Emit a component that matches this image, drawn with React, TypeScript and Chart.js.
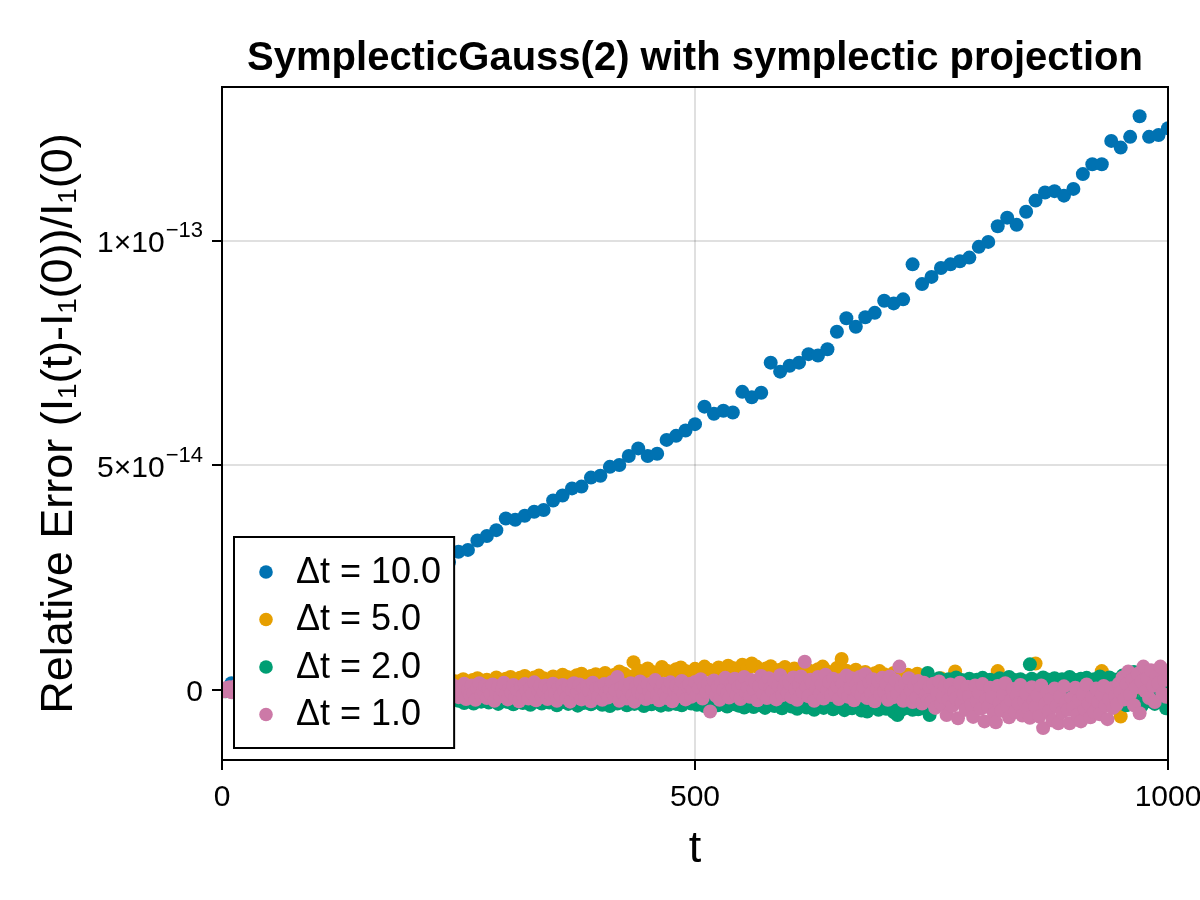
import React, { useEffect, useRef } from 'react';
import { Chart, registerables } from 'chart.js';

Chart.register(...registerables);

const FONT = '"Liberation Sans", Arial, sans-serif';

const TITLE = 'SymplecticGauss(2) with symplectic projection';
const X_LABEL = 't';
const Y_LABEL = 'Relative Error (I₁(t)-I₁(0))/I₁(0)';

const xTicks = [0, 500, 1000];
const xTickLabels = ['0', '500', '1000'];
const yTicks = [0, 5e-14, 1e-13];
// [mantissa part, exponent] drawn as superscript
const yTickLabels = [['0', ''], ['5×10', '−14'], ['1×10', '−13']];

const seriesLabels = ['Δt = 10.0', 'Δt = 5.0', 'Δt = 2.0', 'Δt = 1.0'];
const seriesColors = ['#0072B2', '#E69F00', '#009E73', '#CC79A7'];
// spacing in t between stored points (the Δt = 1 band is solid at this scale, kept every 2)
const seriesSteps = [10, 5, 2, 2];

// all values below are in units of 1e-15
const UNIT = 1e-15;

const dt10 = [
  0, 1.5, 2.5, 3.5, 4.5, 5.5, 6.5, 8, 9, 10,
  11, 12.5, 13.5, 14.5, 15.5, 17, 18, 19.5, 20.5, 21.5,
  23, 24.5, 25.5, 27, 28.5, 30.8, 31.2, 33.3, 34.3, 35.6,
  38.2, 37.9, 38.8, 39.7, 40.1, 42.2, 43.3, 44.9, 45.3, 47.3,
  47.7, 49.7, 50.1, 52.1, 53.8, 52.1, 52.6, 55.7, 56.6, 57.8,
  59.2, 63.1, 61.5, 62.2, 61.8, 66.4, 65.2, 66.2, 72.9, 70.9,
  72.2, 72.9, 74.8, 74.5, 75.9, 79.8, 82.8, 80.9, 83.0, 84.0,
  86.7, 86.1, 87.0, 94.8, 90.4, 92.0, 94.0, 94.8, 95.5, 96.3,
  98.7, 99.8, 103.3, 105.2, 103.6, 106.5, 109.0, 110.8, 111.1, 110.1,
  111.6, 114.9, 117.1, 117.1, 122.3, 120.8, 123.2, 127.8, 123.2, 123.6,
  125.1,
];

const dt5 = [
  0, 0.3, -0.2, 0.5, 0.2, 0.8, 0.4, 0.9, 0.6, 1.1, 0.7, 1.2, 0.9, 0.5, 1.3, 1.0, 1.4, 0.8, 1.2, 1.5,
  1.1, 1.6, 1.3, 0.9, 1.7, 1.4, 1.8, 1.2, 1.5, 2.0, 1.6, 1.3, 1.9, 1.7, 2.1, 1.5, 1.8, 2.2, 1.6, 2.0,
  1.8, 2.3, 1.7, 2.1, 2.4, 1.9, 2.2, 1.6, 2.5, 2.0, 1.9, 2.4, 1.8, 2.2, 2.6, 2.0, 2.3, 1.7, 2.8, 2.1,
  2.5, 2.9, 2.2, 2.7, 3.1, 2.4, 2.8, 3.2, 2.6, 2.3, 3.0, 2.7, 3.4, 2.9, 2.5, 3.3, 3.6, 2.8, 3.1, 3.5,
  3.2, 3.8, 2.9, 3.4, 4.1, 3.6, 3.0, 6.2, 4.4, 3.7, 4.8, 4.0, 3.5, 5.1, 4.3, 3.8, 4.6, 5.0, 4.2, 3.9,
  4.7, 4.1, 5.2, 4.5, 3.8, 5.0, 4.4, 5.4, 4.9, 4.2, 5.6, 4.6, 5.9, 5.2, 4.3, 4.8, 5.3, 4.0, 4.5, 5.1,
  4.2, 4.8, 3.9, 5.0, 4.4, 3.7, 4.6, 5.2, 4.1, 3.6, 4.9, 6.9, 4.3, 3.8, 4.5, 3.4, 4.0, 3.2, 3.7, 4.2,
  3.5, 2.9, 3.8, 3.1, 2.6, 3.4, 2.8, 3.6, 2.4, 3.0, 2.2, 1.4, 2.6, 0.8, 1.9, 4.1, 0.5, 1.6, -0.3, 1.2,
  0.6, 1.8, -0.2, 1.1, 4.2, 0.3, 1.5, -0.6, 2.0, 0.9, -0.1, 1.3, 5.9, 0.4, 1.7, -0.4, 1.0, 2.1, 0.2, 1.4,
  -0.3, 1.2, 0.5, 1.9, -0.5, 0.8, 4.2, 1.1, -0.2, 1.6, -5.9, 0.7, 2.0, 0.1, 1.3, -0.4, 2.2, 0.6, 1.5, 0.9,
  1.8,
];

const dt2 = [
  0, 0.2, -0.3, 0.4, -0.1, 0.3, -0.5, 0.1, 0.5, -0.2, 0.3, -0.6, 0.2, -0.3, 0.6, -0.1, -0.7, 0.4, 0.0, -0.4, 0.5, -0.8, 0.1, -0.3, 0.3,
  -0.5, 0.2, -0.9, 0.0, -0.4, 0.4, -1.0, -0.2, 0.3, -0.7, 0.1, -1.1, -0.3, 0.2, -0.8, -0.1, 0.4, -1.2, -0.5, 0.0, -0.9, 0.3, -0.6, -1.3, -0.2,
  0.1, -1.0, -0.4, 0.2, -1.4, -0.7, -0.1, -1.1, 0.3, -0.8, -1.5, -0.3, 0.0, -1.2, -0.6, 0.2, -1.6, -0.9, -0.2, -1.3, 0.1, -0.7, -1.7, -0.4, -1.0,
  -0.1, -1.4, -0.8, 0.2, -1.8, -0.5, -1.1, -0.2, -1.6, -0.9, 0.0, -2.0, -1.2, -0.4, -1.7, -0.7, 0.1, -1.9, -1.0, -0.3, -2.1, -1.4, -0.6, -1.8, -0.2,
  -1.1, -2.2, -0.5, -1.5, -0.1, -1.9, -1.2, -2.4, -0.7, -1.4, -0.2, -2.0, -1.0, -2.5, -0.6, -1.6, 0.0, -2.2, -1.3, -0.8, -2.6, -1.1, -0.3, -1.9, -1.5,
  -2.4, -0.7, -1.8, -2.9, -1.2, -0.4, -2.2, -1.6, -3.0, -0.9, -1.9, -0.2, -2.6, -1.4, -2.0, -0.8, -2.8, -1.1, -0.5, -2.3, -1.7, -3.1, -1.0, -2.1, -0.6,
  -1.5, -2.7, -0.9, -2.0, -3.2, -1.3, -0.3, -2.4, -1.8, -2.9, -0.7, -1.6, -2.2, -3.3, -1.1, -0.5, -2.6, -1.9, -1.2, -3.0, -2.1, -0.8, -1.7, -2.8, -1.4,
  -0.4, -2.3, -3.4, -1.6, -2.0, -0.9, -2.7, -1.2, -3.1, -1.8, -0.6, -2.5, -1.4, -3.5, -2.1, -1.0, -2.9, -1.7, -0.3, -2.4, -3.2, -1.5, -2.0, -1.1, -2.8,
  -1.9, -3.3, -0.8, -2.2, -1.4, -3.6, -2.6, -1.1, -2.0, -3.0, -0.5, -1.7, -2.8, -1.3, -3.4, -2.3, -0.9, -1.9, -3.1, -2.5, -1.2, -0.7, -2.9, -3.6, -1.6,
  -2.2, -1.0, -3.2, -2.7, -1.5, -0.6, -2.4, -3.5, -1.9, -2.9, -1.3, -3.3, -2.1, -0.9, -2.6, -3.1, -1.7, -2.3, -3.4, -1.1, -2.8, -2.0, -0.8, -3.0, -2.5,
  -1.6, -3.3, -2.2, -0.7, -2.9, -3.6, -1.4, -2.5, -3.1, -1.9, -0.9, -2.7, -3.4, -2.0, -1.2, -3.0, -2.4, -3.7, -1.7, -2.6, -0.8, -3.2, -2.1, -3.5, -1.5,
  -2.8, -3.9, -2.3, -1.0, -3.3, -2.6, -3.8, -1.8, -2.9, -0.6, -3.4, -2.2, -4.0, -2.7, -1.4, -3.1, -2.5, -3.6, -1.9, -0.8, -3.0, -4.1, -2.4, -1.6, -3.2,
  -2.1, -3.7, -1.3, -2.9, -4.2, -2.5, -3.4, -1.7, -2.8, -3.9, -1.1, -2.3, -3.6, -4.4, -2.6, -1.5, -3.2, -2.0, -4.0, -2.7, -0.9, -3.5, -2.4, -4.3, -1.8,
  -3.0, -2.2, -3.8, -1.4, -4.5, -2.7, -3.3, -1.9, -4.1, -2.5, -3.6, -1.2, -2.9, -4.6, -3.1, -2.0, -4.8, -3.4, -1.6, -2.6, -3.9, -2.3, -4.4, -1.8, -3.2,
  -2.4, -4.2, -3.0, -1.5, -3.7, -4.9, -2.6, -5.6, -1.9, -4.5, -3.1, -2.2, -4.0, -3.6, -1.7, -4.4, -3.0, -2.5, -4.3, -1.3, -3.4, -0.5, -2.0, 3.8, -5.6,
  0.8, 2.1, -0.6, 1.5, 2.6, 0.2, 1.8, -0.9, 1.1, 2.4, 0.5, 1.9, -0.3, 2.8, 1.3, 0.7, 2.2, -0.5, 1.6, 0.1, 2.5, 1.0, -0.8, 1.7, 2.3,
  0.4, 1.4, 2.7, -0.2, 1.9, 0.9, 2.3, -0.7, 1.2, 2.0, 0.3, 2.6, 1.5, -0.4, 1.8, 0.6, 2.9, 1.1, -0.1, 2.2, 1.6, 0.0, 2.4, 1.3, -0.6,
  1.9, 0.8, 5.7, 2.5, 1.2, -0.3, 2.1, 1.7, 0.4, 2.8, 1.0, -0.8, 2.3, 1.5, 0.2, 2.6, 1.8, -0.5, 1.1, 2.4, 0.7, 1.9, -0.2, 2.9, 1.4,
  0.5, 2.2, 1.6, -0.7, 2.5, 1.2, 0.1, 2.7, 1.9, -0.4, 1.3, 2.4, 0.6, 1.8, 3.0, -0.1, 1.5, 2.1, 0.3, 2.8, 1.0, -0.9, 2.3, 1.6, 0.7,
  -2.2, 3.2, 0.4, -3.4, 2.6, 1.1, -1.8, 4.0, -2.9, 0.8, 2.9, -3.6, 1.5, -1.2, 3.5, -2.5, 0.2, 2.2, -3.1, 1.8, -0.6, 3.7, -2.0, 0.9, -4.1,
  1.2,
];

const dt1 = [
  0, -0.3, 0.4, -0.1, 0.6, -0.5, 0.2, 0.8, -0.4, 0.1, -0.8, 0.5, -0.2, 0.9, -0.6, 0.3, -0.1, 1.0, -0.7, 0.4, -0.3, 0.7, -0.9, 0.2, 0.6,
  -0.5, 1.1, 0.0, -1.0, 0.5, -0.3, 0.9, -0.8, 0.3, 1.2, -0.6, 0.1, -1.1, 0.7, -0.2, 1.0, -0.9, 0.4, -0.4, 1.3, -1.2, 0.2, 0.8, -0.7, 0.0,
  1.1, -1.0, 0.5, -0.3, 1.4, -0.8, 0.2, -1.3, 0.9, 0.0, -0.6, 1.2, -1.1, 0.4, -0.2, 1.5, -0.9, 0.6, -1.4, 0.1, 1.0, -0.5, -1.2, 0.8, -0.1,
  1.3, -0.8, 0.3, -1.5, 0.7, -0.3, 1.6, -1.0, 0.0, -1.4, 1.1, -0.6, 0.5, -1.6, 0.9, -0.2, 1.4, -1.1, 0.2, -0.7, 1.7, -1.3, 0.4, -0.4, 1.0,
  -1.2, 0.6, -1.7, 0.1, 1.5, -0.5, -1.4, 0.8, -0.9, 1.2, -1.8, 0.3, -0.3, 1.6, -1.1, 0.5, -1.9, 0.9, -0.6, 1.3, -1.5, 0.0, 1.1, -1.0, 0.4,
  -1.6, 0.7, -0.4, 1.4, -2.0, 0.2, -1.1, 1.0, -0.7, -2.2, 0.5, 1.5, -1.3, -0.2, 0.9, -1.8, 0.3, -0.9, 1.2, -2.4, -0.5, 0.8, -1.4, 0.1, 1.6,
  -1.0, -2.1, 0.4, -0.6, 1.1, -1.7, 0.0, -2.5, 0.7, -1.2, 1.3, -0.3, -1.9, 0.5, -0.8, 1.7, -2.3, -0.1, 0.9, -1.5, -0.4, 1.0, -2.0, 0.2, -1.1,
  1.4, -0.7, -2.4, 0.6, -1.3, 1.1, -0.2, -1.8, 0.8, -2.6, 0.0, 1.5, -1.0, -0.5, 1.2, -2.1, 0.3, -1.6, 0.9, -0.3, -2.5, 1.6, -0.9, 0.4, -1.4,
  0.7, -2.2, 1.3, -0.6, -1.7, 0.2, 1.8, -1.2, -0.1, 2.9, -2.4, 0.5, -0.8, 1.1, -1.9, 0.0, 1.5, -1.3, -2.6, 0.8, -0.4, 1.9, -1.0, 0.3, -2.0,
  1.2, -0.5, -1.6, 0.9, 2.2, -1.1, -2.3, 0.4, 1.4, -0.7, -1.8, 0.6, 1.7, -2.5, -0.2, 1.0, -1.4, 0.3, 2.0, -0.9, -2.1, 0.8, 1.3, -1.5, 0.1,
  1.8, -1.0, 0.5, 2.4, -1.9, 0.9, -0.4, 1.5, -4.8, 0.2, 2.1, -1.3, 0.7, -2.2, 1.6, 0.0, 2.7, -0.8, -1.7, 1.2, 0.4, 2.5, -1.1, 0.8, -2.0,
  1.4, 2.9, -0.6, 0.6, -1.5, 2.2, 0.1, 1.7, -2.3, 0.9, 3.1, -0.9, 1.3, -1.8, 2.6, 0.3, -0.4, 1.9, -2.1, 1.0, 3.3, -1.2, 0.5, 2.0, -0.7,
  1.5, -1.6, 2.8, 0.2, -2.2, 1.1, 3.0, -0.5, 6.3, 0.7, -1.4, 2.3, 1.6, -2.4, 0.4, 2.9, -0.8, 1.2, -1.9, 3.4, 0.0, 1.8, -1.1, 2.5, -0.3,
  0.9, -2.0, 2.2, 1.4, -0.6, 3.2, -1.5, 0.5, 2.6, -2.3, 1.0, -0.2, 2.9, -1.2, 0.6, 3.5, -1.8, 1.7, -0.7, 2.4, -2.5, 0.3, 1.9, -1.0, 2.7,
  -0.4, 1.3, -2.2, 3.0, 0.1, -1.6, 2.1, -0.9, 5.2, 0.8, -2.4, 1.5, -1.3, 2.6, -0.1, -2.7, 1.1, -1.8, 2.0, 0.4, -3.0, 1.6, -1.1, -2.3, 0.7,
  -2.6, 1.4, -4.0, -0.8, 1.9, -3.1, -1.5, 0.9, -5.6, -2.2, 1.2, -3.6, -0.5, -1.9, -6.3, 1.6, -2.8, -0.9, -4.4, 0.7, -1.4, -3.3, -6.0, 1.0, -2.5,
  -0.6, -4.2, 1.3, -7.0, -2.1, -3.8, 0.5, -1.6, -5.3, -7.2, 0.9, -2.9, -4.6, -1.0, 1.5, -3.5, -6.1, -2.3, 0.2, -4.9, -1.3, -3.0, 1.1, -5.7, -2.6,
  -0.8, -4.1, -6.2, 0.6, -2.4, -3.7, -1.2, -5.9, 1.0, -8.5, -3.2, -0.4, -4.8, -2.0, -6.8, 0.3, -3.6, -7.4, -1.5, -5.0, 0.8, -2.8, -4.4, -7.4, -1.8,
  -3.9, 0.5, -5.6, -2.2, -7.0, -0.9, -4.3, 1.2, -3.0, -6.1, -1.6, -4.9, 0.3, -2.7, -5.4, -1.1, 0.9, -3.5, -6.5, -2.0, 0.4, -4.0, -1.4, -3.2, 1.4,
  -0.5, 2.8, -2.1, 1.3, 4.1, -1.0, 2.3, -3.4, 0.6, 3.6, -5.2, 1.9, 5.2, -0.3, 2.6, -1.8, 4.4, 0.9, -2.7, 3.1, 1.5, 5.2, -0.8, 2.2, -1.5,
  3.4,
];

const seriesValues = [dt10, dt5, dt2, dt1];

const xMin = 0;
const xMax = 1000;
const yMin = -1.56e-14;
const yMax = 1.343e-13;

const decorPlugin = {
  id: 'decor',
  afterDraw(chart: any) {
    const { ctx, chartArea: a, scales } = chart;
    const xs = scales.x;
    const ys = scales.y;
    const midX = (a.left + a.right) / 2;
    ctx.save();
    ctx.fillStyle = '#000';

    // frame on all four sides
    ctx.strokeStyle = '#000';
    ctx.lineWidth = 2;
    ctx.strokeRect(a.left, a.top, a.right - a.left, a.bottom - a.top);

    // title
    ctx.font = `bold 40px ${FONT}`;
    ctx.textAlign = 'center';
    ctx.textBaseline = 'alphabetic';
    ctx.fillText(TITLE, midX, 70);

    // x tick labels
    ctx.font = `30px ${FONT}`;
    xTicks.forEach((v, i) => {
      ctx.fillText(xTickLabels[i], xs.getPixelForValue(v), a.bottom + 46);
    });

    // y tick labels with superscript exponent
    ctx.textAlign = 'right';
    ctx.textBaseline = 'middle';
    yTicks.forEach((v, i) => {
      const py = ys.getPixelForValue(v);
      const [base, exp] = yTickLabels[i];
      let right = a.left - 19;
      if (exp) {
        ctx.font = `22px ${FONT}`;
        ctx.fillText(exp, right, py - 10);
        right -= ctx.measureText(exp).width + 1;
      }
      ctx.font = `30px ${FONT}`;
      ctx.fillText(base, right, py + 3);
    });

    // axis labels
    ctx.font = `45px ${FONT}`;
    ctx.textAlign = 'center';
    ctx.textBaseline = 'alphabetic';
    ctx.fillText(X_LABEL, midX, 862);
    ctx.save();
    ctx.translate(60, (a.top + a.bottom) / 2);
    ctx.rotate(-Math.PI / 2);
    ctx.textBaseline = 'middle';
    ctx.fillText(Y_LABEL, 0, 0);
    ctx.restore();

    // legend, bottom-left inside the axis
    ctx.font = `36px ${FONT}`;
    const textW = Math.max(...seriesLabels.map((s) => ctx.measureText(s).width));
    const rowH = 47.5;
    const boxL = a.left + 12;
    const boxH = rowH * seriesLabels.length + 21;
    const boxT = a.bottom - 12 - boxH;
    const boxW = 62 + textW + 13;
    ctx.fillStyle = '#fff';
    ctx.fillRect(boxL, boxT, boxW, boxH);
    ctx.strokeStyle = '#000';
    ctx.lineWidth = 2;
    ctx.strokeRect(boxL, boxT, boxW, boxH);
    ctx.textAlign = 'left';
    ctx.textBaseline = 'middle';
    seriesLabels.forEach((label, i) => {
      const cy = boxT + 35 + i * rowH;
      ctx.fillStyle = seriesColors[i];
      ctx.beginPath();
      ctx.arc(boxL + 32, cy, 6.8, 0, Math.PI * 2);
      ctx.fill();
      ctx.fillStyle = '#000';
      ctx.fillText(label, boxL + 62, cy + 1);
    });

    ctx.restore();
  },
};

export default function App() {
  const canvasRef = useRef<HTMLCanvasElement | null>(null);

  useEffect(() => {
    document.body.style.margin = '0';
    if (!canvasRef.current) return;

    const datasets = seriesValues.map((vals, s) => ({
      label: seriesLabels[s],
      data: vals.map((v, i) => ({ x: i * seriesSteps[s], y: v * UNIT })),
      backgroundColor: seriesColors[s],
      borderWidth: 0,
      pointRadius: 7,
      order: seriesValues.length - s, // later series on top
      clip: 0,
    }));

    const gridStyle = {
      color: 'rgba(0,0,0,0.12)',
      lineWidth: 2,
      drawTicks: true,
      tickLength: 10,
      tickColor: '#000',
      tickWidth: 2,
    };

    const chart = new Chart(canvasRef.current, {
      type: 'scatter',
      data: { datasets },
      plugins: [decorPlugin],
      options: {
        responsive: false,
        animation: false,
        devicePixelRatio: 1,
        layout: { padding: { left: 0, right: 32, top: 87, bottom: 0 } },
        plugins: {
          legend: { display: false },
          tooltip: { enabled: false },
          title: { display: false },
        },
        scales: {
          x: {
            type: 'linear',
            min: xMin,
            max: xMax,
            grid: gridStyle,
            border: { display: true, color: '#000', width: 2 },
            ticks: { display: false },
            afterBuildTicks: (scale: any) => {
              scale.ticks = xTicks.map((value) => ({ value }));
            },
            afterFit: (scale: any) => {
              scale.height = 140;
              scale.paddingLeft = 0;
              scale.paddingRight = 0;
            },
          },
          y: {
            type: 'linear',
            min: yMin,
            max: yMax,
            grid: gridStyle,
            border: { display: true, color: '#000', width: 2 },
            ticks: { display: false },
            afterBuildTicks: (scale: any) => {
              scale.ticks = yTicks.map((value) => ({ value }));
            },
            afterFit: (scale: any) => {
              scale.width = 222;
              scale.paddingTop = 0;
              scale.paddingBottom = 0;
            },
          },
        },
      },
    } as any);

    return () => chart.destroy();
  }, []);

  return (
    <div style={{ width: 1200, height: 900, background: '#fff' }}>
      <canvas ref={canvasRef} width={1200} height={900} />
    </div>
  );
}
